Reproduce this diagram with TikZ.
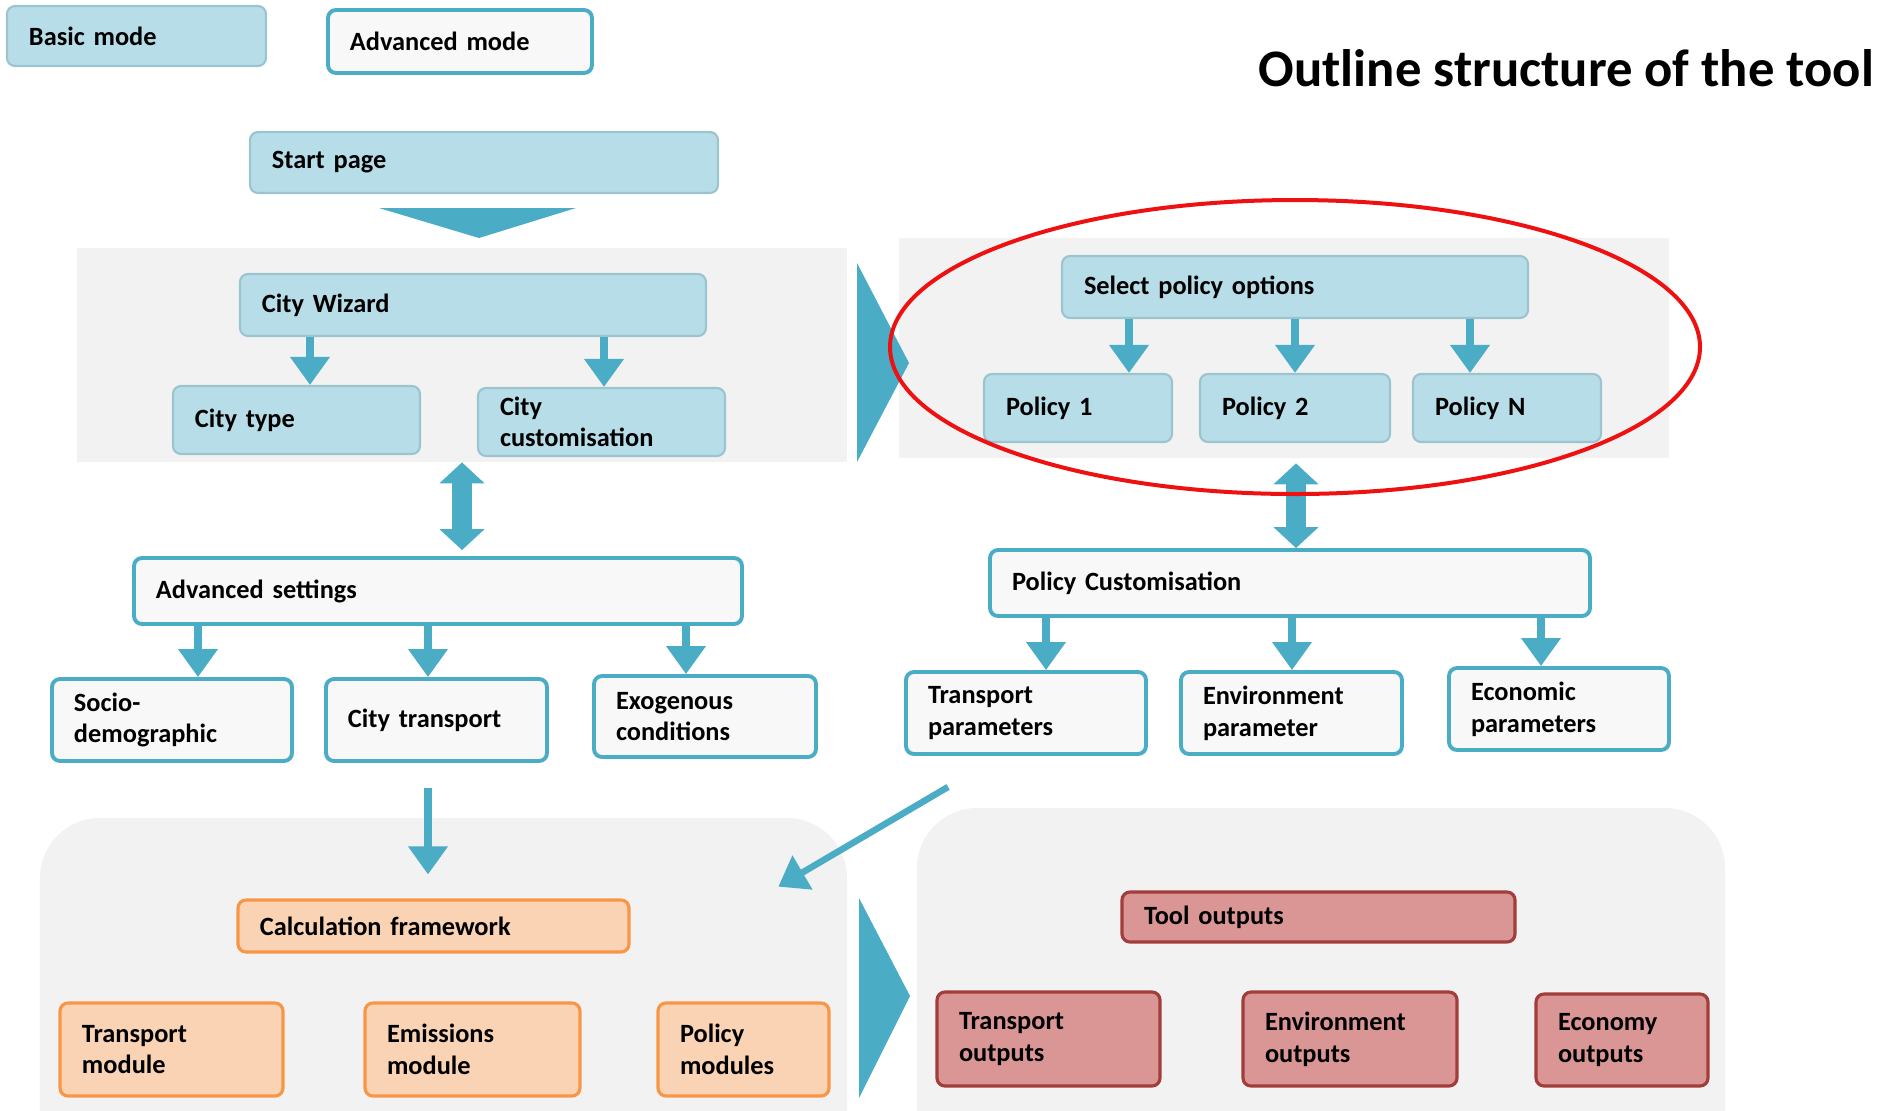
\documentclass[tikz,border=0pt]{standalone}
\usepackage{fontspec}
\setmainfont{Carlito}
\usetikzlibrary{arrows.meta,calc}
\definecolor{aqua}{HTML}{4BACC6}
\definecolor{aqualight}{HTML}{B7DEE8}
\definecolor{aquaedge}{HTML}{9CC4CE}
\definecolor{paper}{HTML}{F8F8F8}
\definecolor{panelgray}{HTML}{F2F2F2}
\definecolor{orangelight}{HTML}{FAD3B4}
\definecolor{orangeedge}{HTML}{F79646}
\definecolor{redlight}{HTML}{D99694}
\definecolor{rededge}{HTML}{A23D3B}
\definecolor{ringred}{HTML}{EE1111}
\tikzset{
    every box/.style={rounded corners=0.16cm, inner xsep=0.44cm, inner ysep=0pt,
        align=left, font=\fontsize{15}{18}\selectfont\bfseries},
    basicbox/.style={every box, fill=aqualight, draw=aquaedge, line width=1.2pt},
    advbox/.style={every box, fill=paper, draw=aqua, line width=2.2pt},
    calcbox/.style={every box, fill=orangelight, draw=orangeedge, line width=1.8pt},
    outbox/.style={every box, fill=redlight, draw=rededge, line width=1.8pt},
    panel/.style={fill=panelgray, inner sep=0pt},
    flowarrow/.style={draw=aqua, line width=0.16cm, -{Triangle[length=0.56cm,width=0.76cm]}},
    bothways/.style={draw=aqua, line width=0.4cm,
        {Triangle[length=0.42cm,width=0.88cm]}-{Triangle[length=0.42cm,width=0.88cm]}},
}
% #1 style, #2 name, #3-#6 left top right bottom (px), #7 text
\newcommand\ToolBox[7]{%
    \pgfmathsetmacro\BoxW{(#5-#3)*0.02}%
    \pgfmathsetmacro\BoxH{(#6-#4)*0.02}%
    \pgfmathsetmacro\BoxT{(#5-#3)*0.02-0.88}%
    \node[#1, minimum width=\BoxW cm, minimum height=\BoxH cm, text width=\BoxT cm]
        (#2) at ({(#3+#5)/2},{(#4+#6)/2}) {#7};
}

\begin{document}
\begin{tikzpicture}[x=0.02cm, y=-0.02cm]
    \useasboundingbox (0,0) rectangle (1882,1110);
    \clip (0,0) rectangle (1882,1110);
    % panels
    \ToolBox{panel}{cpanel}{77}{248}{847}{462}{}
    \ToolBox{panel}{ppanel}{899}{238}{1669}{458}{}
    \ToolBox{panel, rounded corners=1.2cm}{calcpanel}{40}{818}{847}{1180}{}
    \ToolBox{panel, rounded corners=1.2cm}{outpanel}{917}{808}{1725}{1180}{}

    \node[anchor=east, font=\fontsize{30}{36}\selectfont\bfseries] (title) at (1880,68)
        {Outline structure of the tool};

    \ToolBox{basicbox}{basic}{7}{6}{266}{66}{Basic mode}
    \ToolBox{advbox}{advmode}{328}{10}{592}{73}{Advanced mode}

    \ToolBox{basicbox}{start}{250}{132}{718}{193}{Start page}
    \fill[aqua] (379,208) -- (576,208) -- (479,238) -- cycle;

    % city wizard
    \ToolBox{basicbox}{wizard}{240}{274}{706}{336}{City Wizard}
    \ToolBox{basicbox}{ctype}{173}{386}{420}{454}{City type}
    \ToolBox{basicbox}{ccust}{478}{388}{725}{456}{City\\customisation}
    \foreach \x/\kid in {310/ctype, 604/ccust}
        \draw[flowarrow] (\x,0 |- wizard.south) -- (\x,0 |- \kid.north);

    \fill[aqua] (857,263) -- (909,363) -- (857,462) -- cycle;

    % policies
    \ToolBox{basicbox}{select}{1062}{256}{1528}{318}{Select policy options}
    \ToolBox{basicbox}{pol1}{984}{374}{1172}{442}{Policy 1}
    \ToolBox{basicbox}{pol2}{1200}{374}{1390}{442}{Policy 2}
    \ToolBox{basicbox}{polN}{1413}{374}{1601}{442}{Policy N}
    \foreach \x/\kid in {1129/pol1, 1295/pol2, 1470/polN}
        \draw[flowarrow] (\x,0 |- select.south) -- (\x,0 |- \kid.north);

    % advanced settings
    \ToolBox{advbox}{adv}{134}{558}{742}{624}{Advanced settings}
    \ToolBox{advbox}{socio}{52}{679}{292}{761}{Socio-\\demographic}
    \ToolBox{advbox}{ctrans}{326}{679}{547}{761}{City transport}
    \ToolBox{advbox}{exo}{594}{676}{816}{757}{Exogenous\\conditions}
    \foreach \x/\kid in {198/socio, 428/ctrans, 686/exo}
        \draw[flowarrow] (\x,0 |- adv.south) -- (\x,0 |- \kid.north);
    \draw[bothways, shorten >=0.12cm] (462,0 |- cpanel.south) -- (462,0 |- adv.north);

    % policy customisation
    \ToolBox{advbox}{pcust}{990}{550}{1590}{616}{Policy Customisation}
    \ToolBox{advbox}{tpar}{906}{672}{1146}{754}{Transport\\parameters}
    \ToolBox{advbox}{epar}{1181}{672}{1402}{754}{Environment\\parameter}
    \ToolBox{advbox}{ecpar}{1449}{668}{1669}{750}{Economic\\parameters}
    \foreach \x/\kid in {1046/tpar, 1292/epar, 1541/ecpar}
        \draw[flowarrow] (\x,0 |- pcust.south) -- (\x,0 |- \kid.north);
    \draw[bothways, shorten <=0.1cm] (1296,0 |- ppanel.south) -- (1296,0 |- pcust.north);

    % calculation
    \ToolBox{calcbox}{calc}{238}{900}{629}{952}{Calculation framework}
    \ToolBox{calcbox}{tmod}{60}{1003}{283}{1096}{Transport\\module}
    \ToolBox{calcbox}{emod}{365}{1003}{580}{1096}{Emissions\\module}
    \ToolBox{calcbox}{pmod}{658}{1003}{829}{1096}{Policy\\modules}
    \draw[flowarrow] ($(428,0 |- ctrans.south)+(0,25)$) -- ($(428,0 |- calc.north)+(0,-24)$);
    \draw[flowarrow, line width=0.13cm] ($(tpar.south west)+(44,31)$)
        -- ($(calcpanel.north east)+(-69,69)$);

    \fill[aqua] (859,898) -- (910,996) -- (859,1098) -- cycle;

    % outputs
    \ToolBox{outbox}{tout}{1122}{892}{1515}{942}{Tool outputs}
    \ToolBox{outbox}{trout}{937}{992}{1160}{1086}{Transport\\outputs}
    \ToolBox{outbox}{envout}{1243}{992}{1457}{1086}{Environment\\outputs}
    \ToolBox{outbox}{ecoout}{1536}{994}{1708}{1086}{Economy\\outputs}

    \draw[ringred, line width=0.08cm] (1295,347) ellipse [x radius=405, y radius=147];
\end{tikzpicture}
\end{document}
